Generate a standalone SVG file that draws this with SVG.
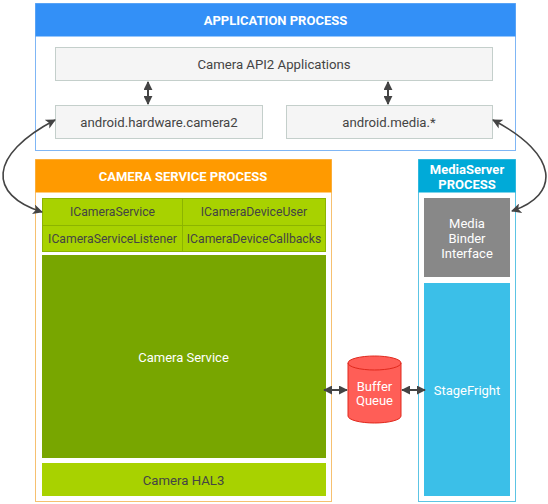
<svg xmlns="http://www.w3.org/2000/svg" width="548" height="504" viewBox="0 0 548 504">
<defs>
<marker id="ah" viewBox="0 0 10 10" refX="9" refY="5" markerUnits="userSpaceOnUse" markerWidth="11" markerHeight="10" orient="auto-start-reverse">
<path d="M0,0 L10,5 L0,10 L2.5,5 z" fill="#444"/>
</marker>
<marker id="ah2" viewBox="0 0 10 10" refX="9" refY="5" markerUnits="userSpaceOnUse" markerWidth="9" markerHeight="9" orient="auto-start-reverse">
<path d="M0,0 L10,5 L0,10 z" fill="#444"/>
</marker>
</defs>
<style>
text{font-family:Roboto,"Liberation Sans",sans-serif;text-anchor:middle;dominant-baseline:central}
.hd{fill:#fff;font-weight:bold;font-size:13px}
.dk{fill:#444;font-size:13.2px}
.sm{fill:#444;font-size:12.2px}
.wt{fill:#fff;font-size:13px}
.lib{fill:#f5f5f5;stroke:#c4cfcb;stroke-width:1}
.ifc{fill:#a8d200;stroke:#8cb400;stroke-width:1}
.conn{fill:none;stroke:#444;stroke-width:1.6}
.dbl{fill:none;stroke:#444;stroke-width:2}
</style>
<rect width="548" height="504" fill="#fff"/>

<g id="app-process">
<rect x="35.5" y="3.5" width="480" height="147" fill="#fff" stroke="#7fb6f5"/>
<rect x="35.5" y="3.5" width="480" height="33" fill="#3390f7"/>
<text class="hd" x="275.5" y="20">APPLICATION PROCESS</text>
</g>
<g id="camera-api2-apps">
<rect class="lib" x="55.5" y="47.5" width="437" height="33"/>
<text class="dk" x="274" y="64">Camera API2 Applications</text>
</g>
<g id="android-hardware-camera2">
<rect class="lib" x="55.5" y="105.5" width="207" height="33"/>
<text class="dk" x="159" y="122">android.hardware.camera2</text>
</g>
<g id="android-media">
<rect class="lib" x="286.5" y="105.5" width="206" height="33"/>
<text class="dk" x="389" y="122">android.media.*</text>
</g>

<g id="camera-service-process">
<rect x="35.5" y="159.5" width="296" height="342" fill="#fff" stroke="#f6c070"/>
<rect x="35.5" y="159.5" width="296" height="33" fill="#ff9a00"/>
<text class="hd" x="183" y="176.5">CAMERA SERVICE PROCESS</text>
</g>
<g id="icameraservice">
<rect class="ifc" x="42.5" y="198.5" width="140" height="27"/>
<text class="sm" x="112.5" y="212">ICameraService</text>
</g>
<g id="icameradeviceuser">
<rect class="ifc" x="182.5" y="198.5" width="143" height="27"/>
<text class="sm" x="254" y="212">ICameraDeviceUser</text>
</g>
<g id="icameraservicelistener">
<rect class="ifc" x="42.5" y="225.5" width="140" height="26"/>
<text class="sm" x="112.5" y="239">ICameraServiceListener</text>
</g>
<g id="icameradevicecallbacks">
<rect class="ifc" x="182.5" y="225.5" width="143" height="26"/>
<text class="sm" x="254" y="239">ICameraDeviceCallbacks</text>
</g>
<g id="camera-service">
<rect x="42" y="255" width="284" height="203" fill="#78a600"/>
<text class="wt" x="183.5" y="357">Camera Service</text>
</g>
<g id="camera-hal3">
<rect x="42" y="463" width="284" height="33" fill="#a8d200"/>
<text class="dk" x="183.5" y="480">Camera HAL3</text>
</g>

<g id="mediaserver-process">
<rect x="418.5" y="159.5" width="97" height="342" fill="#fff" stroke="#5cc4e4"/>
<rect x="418.5" y="159.5" width="97" height="33" fill="#00aad8"/>
<text class="hd" x="467" y="169.5">MediaServer</text>
<text class="hd" x="467" y="184.5">PROCESS</text>
</g>
<g id="media-binder-interface">
<rect x="424" y="198" width="86" height="79" fill="#888"/>
<text class="wt" x="467" y="223">Media</text>
<text class="wt" x="467" y="238">Binder</text>
<text class="wt" x="467" y="253">Interface</text>
</g>
<g id="stagefright">
<rect x="424" y="283" width="86" height="213" fill="#3bbfe8"/>
<text class="wt" x="467" y="390">StageFright</text>
</g>

<g id="buffer-queue">
<path d="M348,363 L348,416 A26.5,7 0 0 0 401,416 L401,363 A26.5,7 0 0 0 348,363 Z" fill="#ff5e57" stroke="#e0281c" stroke-width="1"/>
<path d="M348,363 A26.5,7 0 0 0 401,363" fill="none" stroke="#e0281c" stroke-width="1"/>
<text class="wt" x="374.5" y="386.5">Buffer</text>
<text class="wt" x="374.5" y="400.5">Queue</text>
</g>

<g id="connectors">
<path class="dbl" d="M148,82 L148,104" marker-start="url(#ah2)" marker-end="url(#ah2)"/>
<path class="dbl" d="M388,82 L388,104" marker-start="url(#ah2)" marker-end="url(#ah2)"/>
<path class="conn" d="M55,120 C-12,155 -12,195 42,212" marker-start="url(#ah)" marker-end="url(#ah)"/>
<path class="conn" d="M493,120 C560,155 560,195 512,211" marker-start="url(#ah)" marker-end="url(#ah)"/>
<path class="dbl" d="M324,390 L347,390" marker-start="url(#ah2)" marker-end="url(#ah2)"/>
<path class="dbl" d="M402,390 L425,390" marker-start="url(#ah2)" marker-end="url(#ah2)"/>
</g>
</svg>
